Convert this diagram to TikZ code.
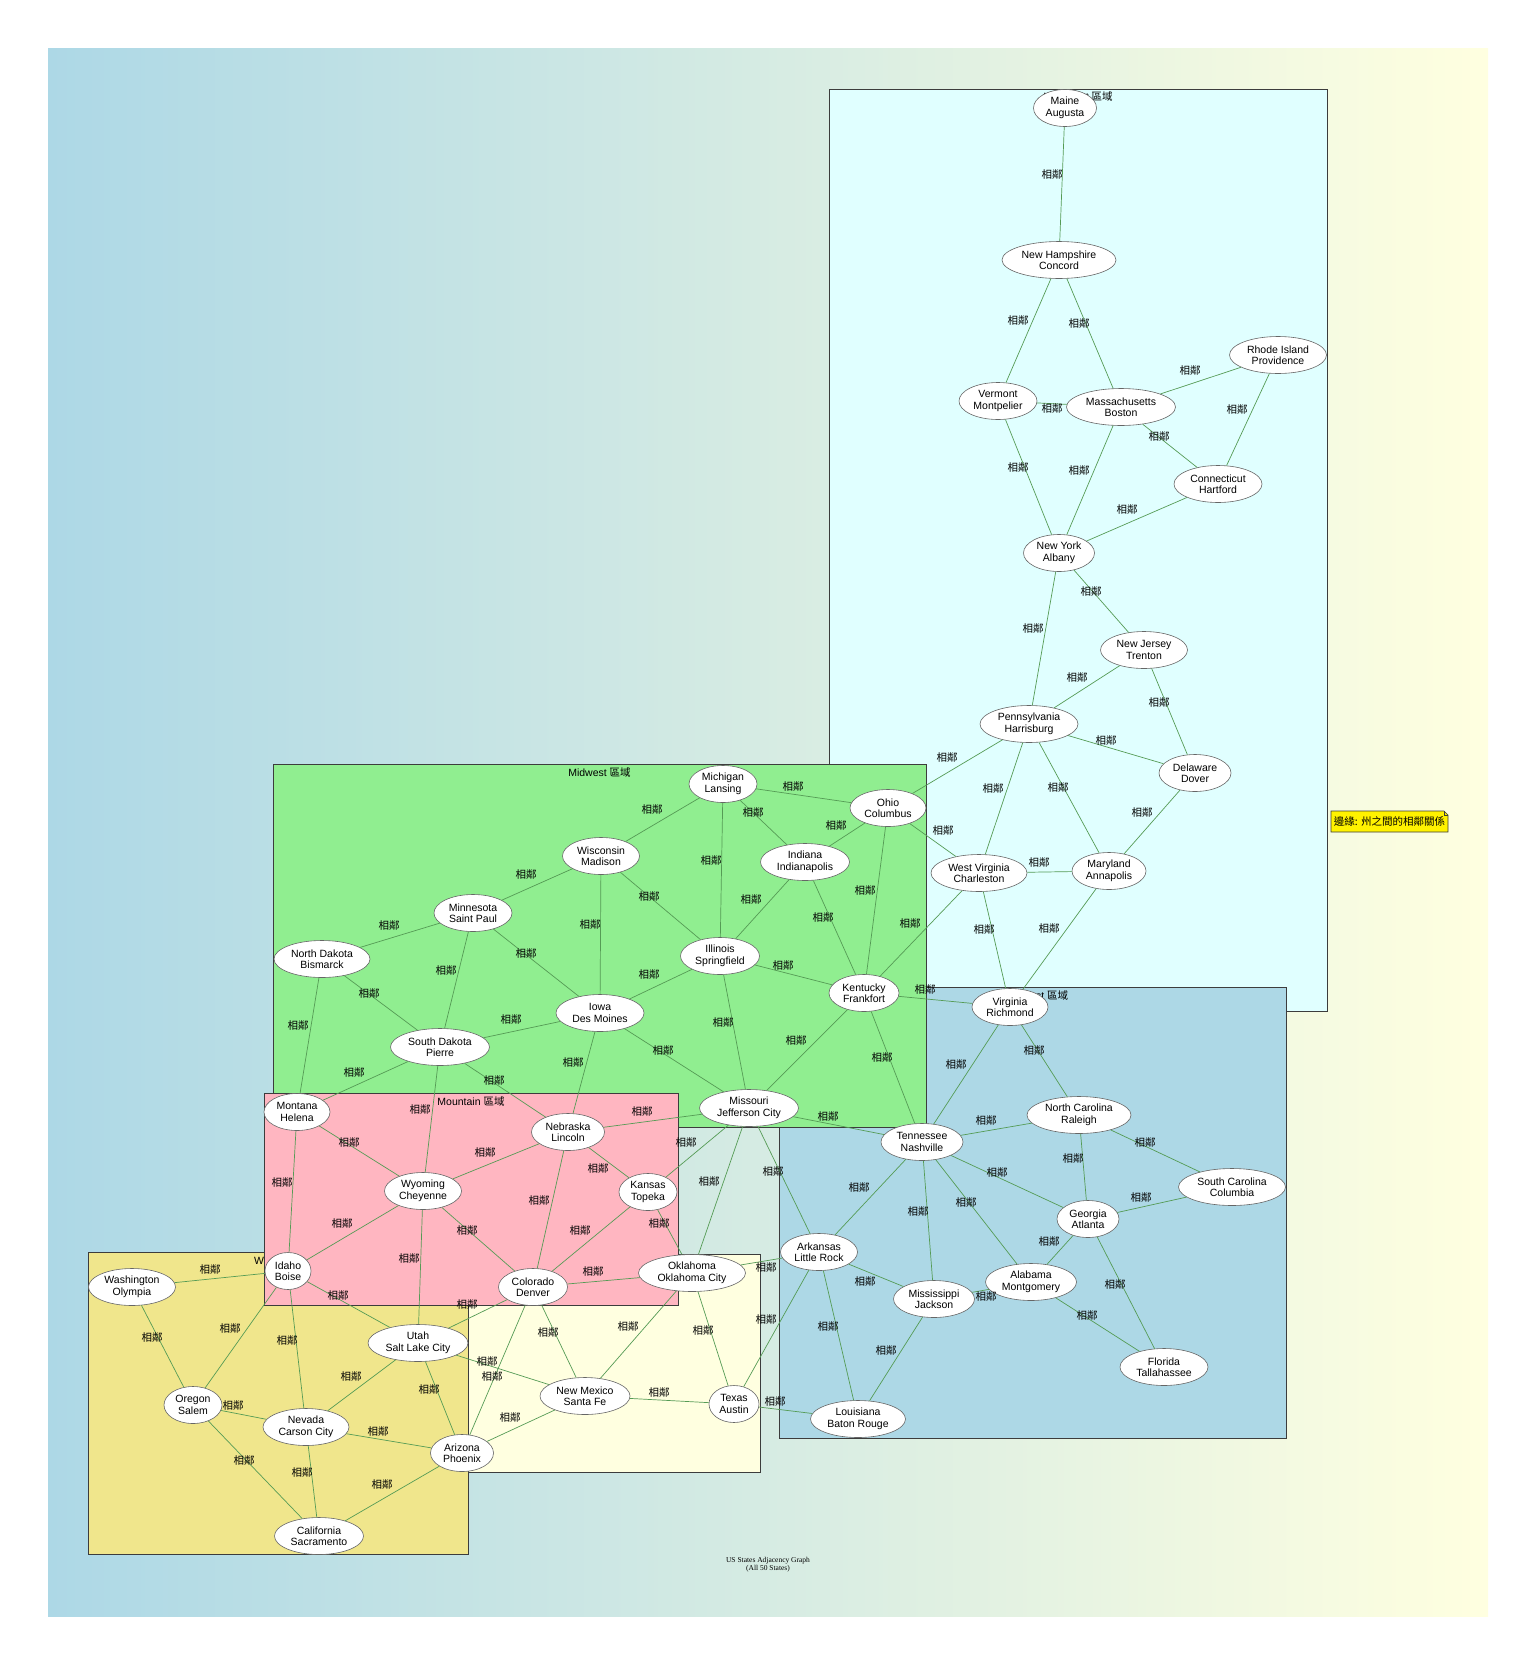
\documentclass[tikz,border=0pt]{standalone}
\usepackage{fontspec}
\setmainfont{Liberation Sans}
\newfontfamily\cjk{Noto Sans CJK TC}
\newfontfamily\capfont{Liberation Serif}
\usetikzlibrary{shapes.geometric}

\definecolor{bgleft}{HTML}{ADD8E6}
\definecolor{bgright}{HTML}{FFFFE0}
\definecolor{neFill}{HTML}{E0FFFF}
\definecolor{mwFill}{HTML}{90EE90}
\definecolor{seFill}{HTML}{ADD8E6}
\definecolor{mtFill}{HTML}{FFB6C1}
\definecolor{wsFill}{HTML}{F0E68C}
\definecolor{swFill}{HTML}{FFFFE0}
\definecolor{edgeGreen}{RGB}{85,155,85}
\definecolor{frameGray}{RGB}{60,60,60}

\tikzset{
  region/.style={draw=frameGray, line width=0.8pt},
  regionlabel/.style={font=\fontsize{10.5}{12}\selectfont, inner sep=0pt, anchor=center},
  state/.style={ellipse, draw=black!60, fill=white, line width=0.6pt, inner sep=0pt,
    minimum height=37pt, align=center, font=\fontsize{10.5}{11.5}\selectfont},
  link/.style={draw=edgeGreen, line width=0.7pt},
  linklabel/.style={font=\cjk\fontsize{10.5}{12}\selectfont, inner sep=0pt},
}

% edge between two states with its label at a given spot
\newcommand\adj[4]{%
  \draw[link] (#1) -- (#2);
  \node[linklabel] (lbl-#1-#2) at (#3,#4) {相鄰};}

\begin{document}
\begin{tikzpicture}[x=1pt,y=-1pt]
\useasboundingbox (0,0) rectangle (1536,1663);
\fill[white] (0,0) rectangle (1536,1663);
\shade[left color=bgleft, right color=bgright] (48,48) rectangle (1488,1616);

% regions
\filldraw[region, fill=neFill] (829,89) rectangle (1327,1011);
\node[regionlabel] (lab-ne) at (1078,96.5) {Northeast {\cjk 區域}};
\filldraw[region, fill=seFill] (779,987) rectangle (1286,1438);
\node[regionlabel] (lab-se) at (1032.5,995.5) {Southeast {\cjk 區域}};
\filldraw[region, fill=swFill] (420,1254) rectangle (760,1472);
\filldraw[region, fill=wsFill] (88,1252) rectangle (468,1554);
\node[regionlabel] (lab-ws) at (278,1260.5) {West {\cjk 區域}};
\filldraw[region, fill=mwFill] (273,764) rectangle (926,1127);
\node[regionlabel] (lab-mw) at (599.5,772.5) {Midwest {\cjk 區域}};
\filldraw[region, fill=mtFill] (264,1093) rectangle (678,1305);
\node[regionlabel] (lab-mt) at (471,1101.5) {Mountain {\cjk 區域}};

% legend note
\filldraw[draw=frameGray, fill=yellow, line width=0.7pt]
  (1331,811) -- (1444,811) -- (1448,815) -- (1448,832) -- (1331,832) -- cycle;
\draw[frameGray, line width=0.5pt] (1444,811) -- (1444,815) -- (1448,815);
\node[font=\cjk\fontsize{10.5}{12}\selectfont, inner sep=0pt] (legend) at (1389.5,821.5) {邊緣: 州之間的相鄰關係};

% caption
\node[font=\capfont\fontsize{7.5}{8}\selectfont, align=center, inner sep=0pt] (title) at (768,1565)
  {US States Adjacency Graph\\(All 50 States)};

% Northeast
\node[state, minimum width=63pt]  (ME) at (1065,108)  {Maine\\Augusta};
\node[state, minimum width=114pt] (NH) at (1059,260)  {New Hampshire\\Concord};
\node[state, minimum width=78pt]  (VT) at (998,401)   {Vermont\\Montpelier};
\node[state, minimum width=109pt] (MA) at (1121,407)  {Massachusetts\\Boston};
\node[state, minimum width=97pt]  (RI) at (1278,355)  {Rhode Island\\Providence};
\node[state, minimum width=88pt]  (CT) at (1218,484)  {Connecticut\\Hartford};
\node[state, minimum width=71pt]  (NY) at (1059,553)  {New York\\Albany};
\node[state, minimum width=87pt]  (NJ) at (1144,650)  {New Jersey\\Trenton};
\node[state, minimum width=98pt]  (PA) at (1029,724)  {Pennsylvania\\Harrisburg};
\node[state, minimum width=72pt]  (DE) at (1195,773)  {Delaware\\Dover};
\node[state, minimum width=96pt]  (WV) at (979,873)   {West Virginia\\Charleston};
\node[state, minimum width=74pt]  (MD) at (1109,871)  {Maryland\\Annapolis};

% Midwest
\node[state, minimum width=68pt]  (MI) at (723,784)   {Michigan\\Lansing};
\node[state, minimum width=76pt]  (OH) at (888,808)   {Ohio\\Columbus};
\node[state, minimum width=89pt]  (IN) at (805,862)   {Indiana\\Indianapolis};
\node[state, minimum width=77pt]  (WI) at (601,856)   {Wisconsin\\Madison};
\node[state, minimum width=78pt]  (MN) at (473,913)   {Minnesota\\Saint Paul};
\node[state, minimum width=96pt]  (ND) at (322,959)   {North Dakota\\Bismarck};
\node[state, minimum width=79pt]  (IL) at (720,956)   {Illinois\\Springfield};
\node[state, minimum width=70pt]  (KY) at (864,993)   {Kentucky\\Frankfort};
\node[state, minimum width=88pt]  (IA) at (600,1013)  {Iowa\\Des Moines};
\node[state, minimum width=99pt]  (SD) at (440,1047)  {South Dakota\\Pierre};
\node[state, minimum width=99pt]  (MO) at (749,1108)  {Missouri\\Jefferson City};

% Mountain
\node[state, minimum width=66pt]  (MT) at (297,1112)  {Montana\\Helena};
\node[state, minimum width=73pt]  (NE) at (568,1132)  {Nebraska\\Lincoln};
\node[state, minimum width=77pt]  (WY) at (423,1191)  {Wyoming\\Cheyenne};
\node[state, minimum width=58pt]  (KS) at (648,1192)  {Kansas\\Topeka};
\node[state, minimum width=46pt]  (ID) at (288,1271)  {Idaho\\Boise};
\node[state, minimum width=69pt]  (CO) at (533,1287)  {Colorado\\Denver};

% West and Southwest
\node[state, minimum width=87pt]  (WA) at (132,1287)  {Washington\\Olympia};
\node[state, minimum width=58pt]  (OR) at (193,1405)  {Oregon\\Salem};
\node[state, minimum width=86pt]  (NV) at (306,1427)  {Nevada\\Carson City};
\node[state, minimum width=100pt] (UT) at (418,1343)  {Utah\\Salt Lake City};
\node[state, minimum width=63pt]  (AZ) at (462,1453)  {Arizona\\Phoenix};
\node[state, minimum width=89pt]  (CA) at (319,1536)  {California\\Sacramento};
\node[state, minimum width=107pt] (OK) at (692,1273)  {Oklahoma\\Oklahoma City};
\node[state, minimum width=90pt]  (NM) at (585,1396)  {New Mexico\\Santa Fe};
\node[state, minimum width=50pt]  (TX) at (734,1404)  {Texas\\Austin};

% Southeast
\node[state, minimum width=76pt]  (VA) at (1010,1007) {Virginia\\Richmond};
\node[state, minimum width=104pt] (NC) at (1079,1115) {North Carolina\\Raleigh};
\node[state, minimum width=82pt]  (TN) at (922,1142)  {Tennessee\\Nashville};
\node[state, minimum width=107pt] (SC) at (1232,1187) {South Carolina\\Columbia};
\node[state, minimum width=62pt]  (GA) at (1088,1219) {Georgia\\Atlanta};
\node[state, minimum width=77pt]  (AR) at (819,1252)  {Arkansas\\Little Rock};
\node[state, minimum width=91pt]  (AL) at (1031,1282) {Alabama\\Montgomery};
\node[state, minimum width=81pt]  (MS) at (934,1299)  {Mississippi\\Jackson};
\node[state, minimum width=88pt]  (FL) at (1164,1367) {Florida\\Tallahassee};
\node[state, minimum width=95pt]  (LA) at (858,1419)  {Louisiana\\Baton Rouge};

% adjacencies
\adj{ME}{NH}{1052}{175}
\adj{NH}{VT}{1018}{321}
\adj{NH}{MA}{1079}{324}
\adj{VT}{MA}{1052}{409}
\adj{MA}{RI}{1190}{371}
\adj{RI}{CT}{1237}{410}
\adj{MA}{CT}{1159}{437}
\adj{VT}{NY}{1018}{468}
\adj{MA}{NY}{1079}{471}
\adj{CT}{NY}{1127}{510}
\adj{NY}{NJ}{1091}{592}
\adj{NY}{PA}{1033}{629}
\adj{NJ}{PA}{1077}{678}
\adj{NJ}{DE}{1159}{703}
\adj{PA}{DE}{1106}{741}
\adj{PA}{OH}{947}{758}
\adj{PA}{WV}{993}{789}
\adj{PA}{MD}{1058}{788}
\adj{DE}{MD}{1142}{813}
\adj{OH}{WV}{943}{831}
\adj{WV}{MD}{1039}{863}
\adj{WV}{KY}{910}{924}
\adj{WV}{VA}{984}{930}
\adj{MD}{VA}{1049}{929}

\adj{MI}{OH}{793}{787}
\adj{MI}{WI}{652}{810}
\adj{MI}{IN}{753}{813}
\adj{MI}{IL}{711}{861}
\adj{OH}{IN}{836}{826}
\adj{OH}{KY}{865}{891}
\adj{IN}{IL}{751}{900}
\adj{IN}{KY}{823}{918}
\adj{WI}{MN}{526}{875}
\adj{WI}{IL}{649}{897}
\adj{WI}{IA}{590}{925}
\adj{MN}{ND}{389}{926}
\adj{MN}{SD}{446}{971}
\adj{MN}{IA}{526}{954}
\adj{IL}{IA}{649}{975}
\adj{IL}{KY}{783}{966}
\adj{IL}{MO}{723}{1023}
\adj{ND}{SD}{369}{994}
\adj{ND}{MT}{298}{1026}
\adj{SD}{IA}{511}{1020}
\adj{SD}{MT}{354}{1072}
\adj{SD}{NE}{494}{1081}
\adj{SD}{WY}{420}{1110}
\adj{IA}{MO}{663}{1051}
\adj{IA}{NE}{573}{1063}
\adj{KY}{MO}{796}{1041}
\adj{KY}{VA}{925}{990}
\adj{KY}{TN}{882}{1058}
\adj{NE}{MO}{642}{1111}
\adj{MO}{KS}{686}{1142}
\adj{MO}{TN}{828}{1116}
\adj{MO}{OK}{709}{1181}
\adj{MO}{AR}{773}{1171}
\adj{KS}{OK}{659}{1223}

\adj{MT}{WY}{349}{1142}
\adj{MT}{ID}{282}{1182}
\adj{WY}{NE}{485}{1152}
\adj{WY}{ID}{342}{1223}
\adj{WY}{CO}{467}{1230}
\adj{WY}{UT}{409}{1258}
\adj{NE}{KS}{598}{1168}
\adj{NE}{CO}{539}{1200}
\adj{KS}{CO}{580}{1230}
\adj{CO}{OK}{593}{1271}
\adj{CO}{UT}{467}{1304}
\adj{CO}{NM}{548}{1332}
\adj{CO}{AZ}{492}{1376}
\adj{ID}{WA}{210}{1269}
\adj{ID}{UT}{338}{1295}
\adj{ID}{OR}{230}{1328}
\adj{ID}{NV}{287}{1340}

\adj{WA}{OR}{152}{1337}
\adj{OR}{NV}{233}{1405}
\adj{OR}{CA}{244}{1460}
\adj{NV}{UT}{351}{1376}
\adj{NV}{AZ}{378}{1431}
\adj{NV}{CA}{302}{1472}
\adj{UT}{AZ}{429}{1389}
\adj{UT}{NM}{487}{1361}
\adj{AZ}{CA}{382}{1484}
\adj{AZ}{NM}{510}{1417}

\adj{OK}{NM}{628}{1326}
\adj{OK}{TX}{703}{1330}
\adj{NM}{TX}{659}{1392}
\adj{OK}{AR}{766}{1267}
\adj{TX}{AR}{766}{1319}
\adj{TX}{LA}{775}{1401}

\adj{VA}{TN}{956}{1065}
\adj{VA}{NC}{1034}{1051}
\adj{TN}{NC}{986}{1120}
\adj{TN}{GA}{997}{1172}
\adj{TN}{AL}{966}{1202}
\adj{TN}{MS}{918}{1211}
\adj{TN}{AR}{859}{1187}
\adj{NC}{SC}{1145}{1142}
\adj{NC}{GA}{1073}{1158}
\adj{GA}{SC}{1141}{1197}
\adj{GA}{AL}{1049}{1241}
\adj{GA}{FL}{1115}{1284}
\adj{AR}{MS}{865}{1281}
\adj{AR}{LA}{828}{1326}
\adj{MS}{AL}{986}{1296}
\adj{MS}{LA}{886}{1350}
\adj{AL}{FL}{1087}{1315}
\end{tikzpicture}
\end{document}
